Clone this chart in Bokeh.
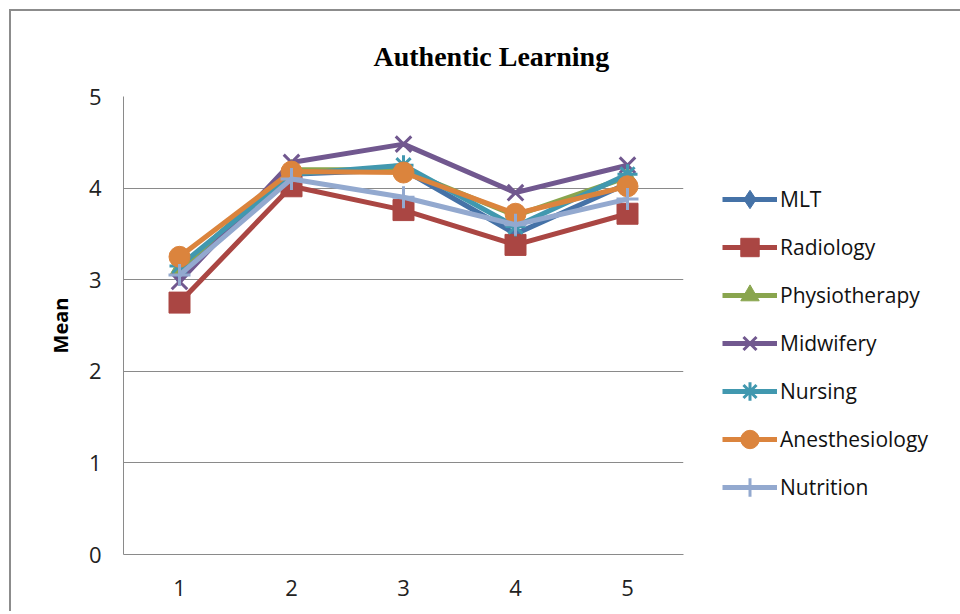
from bokeh.plotting import figure
from bokeh.models import FactorRange, Range1d, FixedTicker, Legend, LegendItem
from bokeh.embed import file_html
from bokeh.resources import INLINE

categories = ["1", "2", "3", "4", "5"]
series_names = ["MLT", "Radiology", "Physiotherapy", "Midwifery", "Nursing", "Anesthesiology", "Nutrition"]
mlt = [3.05, 4.15, 4.20, 3.50, 4.05]
radiology = [2.75, 4.02, 3.76, 3.38, 3.72]
physiotherapy = [3.12, 4.20, 4.20, 3.70, 4.12]
midwifery = [2.98, 4.28, 4.48, 3.95, 4.25]
nursing = [3.15, 4.15, 4.25, 3.58, 4.15]
anesthesiology = [3.25, 4.18, 4.17, 3.72, 4.02]
nutrition = [3.05, 4.10, 3.90, 3.60, 3.88]
y_ticks = [0, 1, 2, 3, 4, 5]

values = [mlt, radiology, physiotherapy, midwifery, nursing, anesthesiology, nutrition]
colors = ["#4572A7", "#AA4643", "#89A54E", "#71588F", "#4198AF", "#DB843D", "#93A9CF"]
markers = ["diamond", "square", "triangle", "x", "asterisk", "circle", "cross"]
sizes = [20, 21, 18, 22, 20, 21, 22]

FONT = "Open Sans"

p = figure(width=940, height=600, x_range=FactorRange(*categories, range_padding=0),
           y_range=Range1d(0, 5), output_backend="svg", toolbar_location=None,
           title="Authentic Learning",
           min_border_left=112, min_border_top=85, min_border_right=268, min_border_bottom=57)
p.frame_width = 560
p.frame_height = 458
p.styles = {"margin-left": "9px", "margin-top": "9px",
            "border-left": "2px solid #8c8c8c", "border-top": "2px solid #8c8c8c"}
p.outline_line_color = None
p.background_fill_color = "white"

p.title.align = "left"
p.title.offset = 250
p.title.vertical_align = "top"
p.title.text_font = "Liberation Serif"
p.title.text_font_style = "bold"
p.title.text_font_size = "28px"
p.title.text_color = "#000000"
p.title.standoff = 45

p.xgrid.grid_line_color = None
p.ygrid.grid_line_color = "#8a8a8a"
p.ygrid.grid_line_width = 1
p.yaxis.ticker = FixedTicker(ticks=y_ticks)

for ax in (p.xaxis[0], p.yaxis[0]):
    ax.axis_line_color = "#8a8a8a"
    ax.major_tick_line_color = None
    ax.minor_tick_line_color = None
    ax.major_label_text_font = FONT
    ax.major_label_text_font_size = "22px"
    ax.major_label_text_color = "#222222"
p.xaxis.major_label_standoff = 19
p.yaxis.major_label_standoff = 16
p.yaxis.axis_label = "Mean"
p.yaxis.axis_label_text_font = FONT
p.yaxis.axis_label_text_font_size = "20px"
p.yaxis.axis_label_text_font_style = "bold"
p.yaxis.axis_label_text_color = "#000000"
p.yaxis.axis_label_standoff = 12

items = []
for name, vals, c, m, s in zip(series_names, values, colors, markers, sizes):
    lr = p.line(categories, vals, line_color=c, line_width=5)
    if m in ("x", "asterisk", "cross"):
        sr = p.scatter(categories, vals, marker=m, size=s, line_color=c, line_width=3, fill_color=c)
    else:
        sr = p.scatter(categories, vals, marker=m, size=s, line_color=c, fill_color=c)
    items.append(LegendItem(label=name, renderers=[lr, sr]))

legend = Legend(items=items, location=(39, 44), padding=0, spacing=2,
                glyph_width=55, glyph_height=46, label_height=20, label_standoff=3,
                label_text_font=FONT, label_text_font_size="21px", label_text_color="#111111",
                border_line_color=None, background_fill_alpha=0, margin=39)
p.add_layout(legend, "right")

open("out.html", "w").write(file_html(p, INLINE))
